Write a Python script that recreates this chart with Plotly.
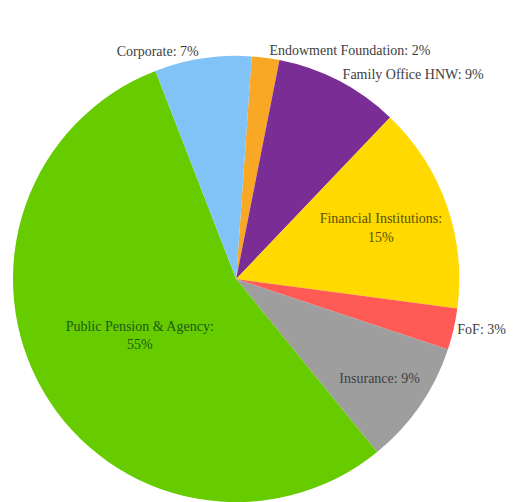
import plotly.graph_objects as go

labels = ["Endowment Foundation", "Family Office HNW", "Financial Institutions", "FoF",
          "Insurance", "Public Pension & Agency", "Corporate"]
values = [2, 9, 15, 3, 9, 55, 7]
colors = ["#F9A825", "#7B2D96", "#FFD900", "#FF5A55", "#9E9E9E", "#66CC00", "#82C3F7"]
positions = ["outside", "outside", "inside", "outside", "inside", "inside", "outside"]
text_colors = ["#404040", "#404040", "#5A5000", "#404040", "#404040", "#1F5A12", "#404040"]
texts = ["Endowment Foundation: 2%", "Family Office HNW: 9%", "Financial Institutions:<br>15%",
         "FoF: 3%", "Insurance: 9%", "Public Pension & Agency:<br>55%", "Corporate: 7%"]

fig = go.Figure(go.Pie(
    labels=labels, values=values, sort=False, direction="clockwise", rotation=4,
    marker=dict(colors=colors, line=dict(width=0)),
    text=texts, textinfo="text", textposition=positions,
    insidetextorientation="horizontal",
    textfont=dict(family="Liberation Serif", size=14, color=text_colors),
    domain=dict(x=[3/531, 451/531], y=[7/502, 455/502]),
    hoverinfo="label+percent",
))
fig.update_layout(
    width=531, height=502, margin=dict(l=0, r=0, t=0, b=0),
    showlegend=False, paper_bgcolor="white", plot_bgcolor="white",
    uniformtext=dict(minsize=12, mode="show"),
)
fig.write_html("out.html")
